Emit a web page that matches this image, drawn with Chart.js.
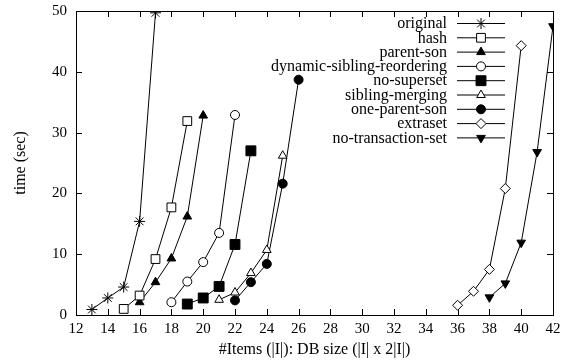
<!DOCTYPE html>
<html>
<head>
<meta charset="utf-8">
<script src="https://cdn.jsdelivr.net/npm/chart.js@4/dist/chart.umd.min.js"></script>
<style>
  html, body { margin: 0; padding: 0; background: #fff; }
</style>
</head>
<body>
<canvas id="myChart" width="568" height="360"></canvas>
<script>
// series labels (legend order)
const seriesNames = ['original', 'hash', 'parent-son', 'dynamic-sibling-reordering', 'no-superset',
  'sibling-merging', 'one-parent-son', 'extraset', 'no-transaction-set'];

// x values (#items) for each series
const xOriginal = [13, 14, 15, 16, 17];
const xHash = [15, 16, 17, 18, 19];
const xParentSon = [16, 17, 18, 19, 20];
const xDynSibling = [18, 19, 20, 21, 22];
const xNoSuperset = [19, 20, 21, 22, 23];
const xSiblingMerging = [21, 22, 23, 24, 25];
const xOneParentSon = [22, 23, 24, 25, 26];
const xExtraset = [36, 37, 38, 39, 40];
const xNoTransaction = [38, 39, 40, 41, 42];

// time (sec)
const yOriginal = [0.9, 2.8, 4.6, 15.4, 49.7];
const yHash = [1.0, 3.2, 9.2, 17.7, 31.9];
const yParentSon = [2.1, 5.4, 9.3, 16.2, 32.8];
const yDynSibling = [2.1, 5.5, 8.7, 13.5, 32.9];
const yNoSuperset = [1.8, 2.8, 4.7, 11.6, 27.0];
const ySiblingMerging = [2.5, 3.7, 6.9, 10.7, 26.2];
const yOneParentSon = [2.4, 5.4, 8.4, 21.6, 38.7];
const yExtraset = [1.6, 3.9, 7.5, 20.8, 44.3];
const yNoTransaction = [2.9, 5.2, 11.9, 26.8, 47.5];

// tick labels
const xTicks = [12, 14, 16, 18, 20, 22, 24, 26, 28, 30, 32, 34, 36, 38, 40, 42];
const yTicks = [0, 10, 20, 30, 40, 50];

const xs = [xOriginal, xHash, xParentSon, xDynSibling, xNoSuperset, xSiblingMerging, xOneParentSon, xExtraset, xNoTransaction];
const ys = [yOriginal, yHash, yParentSon, yDynSibling, yNoSuperset, ySiblingMerging, yOneParentSon, yExtraset, yNoTransaction];

// marker styles
const markers = [
  { style: 'star', radius: 5.5, fill: '#000', rot: 0 },
  { style: 'rect', radius: 6.2, fill: '#fff', rot: 0 },
  { style: 'triangle', radius: 5, fill: '#000', rot: 0 },
  { style: 'circle', radius: 4.5, fill: '#fff', rot: 0 },
  { style: 'rect', radius: 7, fill: '#000', rot: 0 },
  { style: 'triangle', radius: 5, fill: '#fff', rot: 0 },
  { style: 'circle', radius: 4.5, fill: '#000', rot: 0 },
  { style: 'rectRot', radius: 5, fill: '#fff', rot: 0 },
  { style: 'triangle', radius: 5, fill: '#000', rot: 180 }
];

const serif = "'Liberation Serif', 'DejaVu Serif', serif";
const tickSize = 15;
const textSize = 16;

const datasets = seriesNames.map(function (name, i) {
  return {
    label: name,
    data: xs[i].map(function (x, j) { return { x: x, y: ys[i][j] }; }),
    borderColor: '#000',
    borderWidth: 1,
    tension: 0,
    showLine: true,
    pointStyle: markers[i].style,
    pointRadius: markers[i].radius,
    pointRotation: markers[i].rot,
    pointBackgroundColor: markers[i].fill,
    pointBorderColor: '#000',
    pointBorderWidth: 1
  };
});

// box, inward ticks on all sides, and gnuplot-like legend
const framePlugin = {
  id: 'frame',
  afterDatasetsDraw(chart) {
    const ctx = chart.ctx;
    const a = chart.chartArea;
    const sx = chart.scales.x, sy = chart.scales.y;
    ctx.save();
    ctx.strokeStyle = '#000';
    ctx.lineWidth = 1;
    ctx.beginPath();
    xTicks.forEach(function (t) {
      const px = Math.round(sx.getPixelForValue(t)) + 0.5;
      ctx.moveTo(px, a.bottom); ctx.lineTo(px, a.bottom - 6);
      ctx.moveTo(px, a.top); ctx.lineTo(px, a.top + 6);
    });
    yTicks.forEach(function (t) {
      const py = Math.round(sy.getPixelForValue(t)) + 0.5;
      ctx.moveTo(a.left, py); ctx.lineTo(a.left + 6, py);
      ctx.moveTo(a.right, py); ctx.lineTo(a.right - 6, py);
    });
    ctx.stroke();
    ctx.strokeRect(Math.round(a.left) + 0.5, Math.round(a.top) + 0.5,
      Math.round(a.right - a.left), Math.round(a.bottom - a.top));

    // legend
    ctx.font = textSize + 'px ' + serif;
    ctx.textAlign = 'right';
    ctx.textBaseline = 'middle';
    const textRight = 447, lx0 = 457, lx1 = 505, mx = 481;
    seriesNames.forEach(function (name, i) {
      const y = 23.5 + i * 14.3;
      ctx.fillStyle = '#000';
      ctx.fillText(name, textRight, y + 0.5);
      ctx.beginPath();
      ctx.moveTo(lx0, y); ctx.lineTo(lx1, y);
      ctx.stroke();
      ctx.fillStyle = markers[i].fill;
      Chart.helpers.drawPoint(ctx, {
        pointStyle: markers[i].style,
        radius: markers[i].radius,
        rotation: markers[i].rot,
        borderWidth: 1
      }, mx, y);
    });
    ctx.restore();
  }
};

new Chart(document.getElementById('myChart').getContext('2d'), {
  type: 'scatter',
  data: { datasets: datasets },
  options: {
    responsive: false,
    animation: false,
    layout: { padding: { left: 0, right: 15, top: 11, bottom: 0 } },
    plugins: {
      legend: { display: false },
      tooltip: { enabled: false }
    },
    scales: {
      x: {
        type: 'linear',
        min: 12,
        max: 42,
        afterBuildTicks: function (scale) { scale.ticks = xTicks.map(function (v) { return { value: v }; }); },
        afterFit: function (scale) {
          scale.height = 45;
          scale.paddingLeft = 0; scale.paddingRight = 0;
        },
        grid: { display: false, drawTicks: false, tickLength: 0 },
        border: { display: false },
        ticks: { color: '#000', font: { family: serif, size: tickSize }, padding: 5, maxRotation: 0, autoSkip: false },
        title: {
          display: true,
          text: '#Items (|I|): DB size (|I| x 2|I|)',
          color: '#000',
          font: { family: serif, size: textSize },
          padding: { top: 0, bottom: 1 }
        }
      },
      y: {
        type: 'linear',
        min: 0,
        max: 50,
        afterBuildTicks: function (scale) { scale.ticks = yTicks.map(function (v) { return { value: v }; }); },
        afterFit: function (scale) {
          scale.width = 76;
          scale.paddingTop = 0; scale.paddingBottom = 0;
        },
        grid: { display: false, drawTicks: false, tickLength: 0 },
        border: { display: false },
        ticks: { color: '#000', font: { family: serif, size: tickSize }, padding: 9 },
        title: {
          display: true,
          text: 'time (sec)',
          color: '#000',
          font: { family: serif, size: textSize },
          padding: { top: 11, bottom: 0 }
        }
      }
    }
  },
  plugins: [framePlugin]
});
</script>
</body>
</html>
